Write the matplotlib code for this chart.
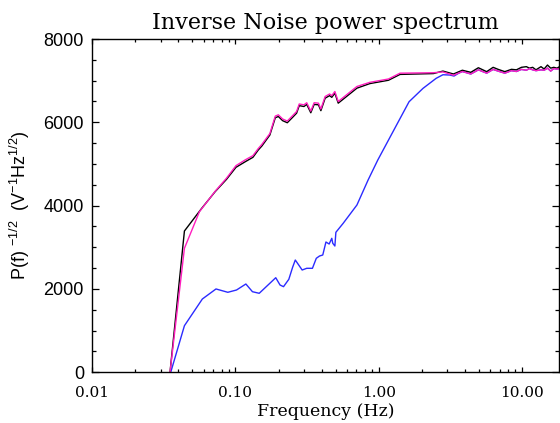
import matplotlib
matplotlib.use("Agg")
import matplotlib.pyplot as plt
from matplotlib.ticker import FixedLocator, LogLocator, NullFormatter, MultipleLocator

black_f = [0.0349, 0.0440, 0.0581, 0.0721, 0.0866, 0.1008, 0.1171, 0.1324, 0.1442, 0.1528,
           0.1738, 0.1897, 0.1993, 0.2134, 0.2300, 0.2506, 0.2672, 0.2788, 0.3008, 0.3145,
           0.3357, 0.3544, 0.3797, 0.3948, 0.4229, 0.4541, 0.4705, 0.4945, 0.5219, 0.7049,
           0.868, 1.171, 1.41, 2.41, 2.81, 3.33, 3.84, 4.40, 4.97, 5.68, 6.30, 6.82, 7.6,
           8.46, 9.16, 9.93, 10.75, 11.3, 11.9, 12.55, 13.6, 14.3, 15.1, 15.9, 16.7, 17.6, 18.3]
black_v = [0, 3391, 3936, 4335, 4632, 4920, 5055, 5160, 5335, 5431,
           5695, 6110, 6140, 6040, 5990, 6120, 6220, 6400, 6380, 6430,
           6230, 6430, 6420, 6280, 6580, 6640, 6600, 6700, 6460, 6820,
           6930, 7010, 7150, 7170, 7230, 7160, 7250, 7200, 7310, 7216, 7320, 7272, 7216,
           7272, 7260, 7320, 7336, 7300, 7320, 7260, 7336, 7280, 7375, 7300, 7320, 7300, 7335]

mag_f = [0.0349, 0.0440, 0.0560, 0.0721, 0.0866, 0.1008, 0.1171, 0.1324, 0.1442, 0.1528,
         0.1738, 0.1897, 0.1993, 0.2134, 0.2300, 0.2506, 0.2672, 0.2788, 0.3008, 0.3145,
         0.3357, 0.3544, 0.3797, 0.3948, 0.4229, 0.4541, 0.4705, 0.4945, 0.5219, 0.7049,
         0.868, 1.171, 1.41, 2.41, 2.81, 3.33, 3.84, 4.40, 4.97, 5.68, 6.30, 6.82, 7.6,
         8.46, 9.16, 9.93, 10.75, 11.3, 11.9, 12.55, 13.6, 14.3, 15.1, 15.9, 16.7, 17.6, 18.3]
mag_v = [0, 2976, 3854, 4345, 4660, 4960, 5100, 5200, 5370, 5470,
         5730, 6150, 6180, 6080, 6030, 6160, 6260, 6440, 6420, 6470,
         6270, 6470, 6460, 6320, 6620, 6680, 6640, 6740, 6500, 6860,
         6960, 7040, 7180, 7190, 7210, 7130, 7220, 7160, 7260, 7180, 7270, 7230, 7180,
         7240, 7220, 7270, 7250, 7290, 7260, 7240, 7260, 7250, 7300, 7230, 7290, 7280, 7290]

blue_f = [0.0353, 0.0440, 0.0587, 0.0731, 0.0884, 0.1017, 0.1182, 0.1314, 0.1465, 0.1911,
          0.2047, 0.2165, 0.2358, 0.2506, 0.2616, 0.2922, 0.3145, 0.3447, 0.3668, 0.3863,
          0.4070, 0.4283, 0.4511, 0.4705, 0.4780, 0.4945, 0.5025, 0.5651, 0.7049, 0.8436,
          0.9858, 1.63, 2.04, 2.52, 2.81, 3.14, 3.36, 3.61, 3.84, 4.40, 4.97, 5.68, 6.30,
          6.82, 7.6, 8.46, 9.16, 9.93, 10.75, 11.3, 11.9, 12.55, 13.6, 14.3, 15.1, 15.9,
          16.7, 17.6, 18.3]
blue_v = [0, 1118, 1759, 2000, 1920, 1975, 2119, 1934, 1896, 2270,
          2095, 2055, 2232, 2520, 2695, 2455, 2496, 2496, 2736, 2791,
          2815, 3127, 3079, 3216, 3096, 3031, 3360, 3576, 4015, 4615,
          5095, 6494, 6815, 7056, 7142, 7135, 7111, 7176, 7220, 7160, 7260, 7180, 7270,
          7230, 7180, 7240, 7220, 7270, 7250, 7290, 7260, 7240, 7260, 7250, 7300, 7230,
          7290, 7280, 7290]

x_ticks = [0.01, 0.1, 1.0, 10.0]
x_ticklabels = ["0.01", "0.10", "1.00", "10.00"]
y_ticks = [0, 2000, 4000, 6000, 8000]

fig = plt.figure(figsize=(5.6, 4.23), dpi=100)
ax = fig.add_axes([0.1648, 0.1199, 0.8342, 0.7879])

ax.plot(blue_f, blue_v, color="#2b2bff", lw=1.0)
ax.plot(black_f, black_v, color="black", lw=1.0)
ax.plot(mag_f, mag_v, color="#ff1ebe", lw=1.0)

ax.set_xscale("log")
ax.set_xlim(0.01, 18.3)
ax.set_ylim(0, 8000)

ax.xaxis.set_major_locator(FixedLocator(x_ticks))
ax.set_xticklabels(x_ticklabels, fontfamily="DejaVu Serif", fontsize=11)
ax.xaxis.set_minor_locator(LogLocator(base=10, subs=range(2, 10)))
ax.xaxis.set_minor_formatter(NullFormatter())
ax.set_yticks(y_ticks)
ax.set_yticklabels([str(v) for v in y_ticks], fontfamily="Liberation Sans", fontsize=13)
ax.yaxis.set_minor_locator(MultipleLocator(500))

ax.tick_params(which="both", direction="in", top=True, right=True, width=0.9)
ax.tick_params(axis="x", which="major", length=3.6, pad=10)
ax.tick_params(axis="x", which="minor", length=2.2)
ax.tick_params(axis="y", which="major", length=5, pad=6)
ax.tick_params(axis="y", which="minor", length=3)

for s in ax.spines.values():
    s.set_linewidth(1.0)

ax.set_title("Inverse Noise power spectrum", fontfamily="DejaVu Serif", fontsize=16, pad=7)
ax.set_xlabel("Frequency (Hz)", fontfamily="DejaVu Serif", fontsize=12.5, labelpad=2)
ax.set_ylabel(r"P(f) $^{\mathregular{-1/2}}$  (V$^{\mathregular{-1}}$Hz$^{\mathregular{1/2}}$)",
              fontfamily="Liberation Sans", fontsize=13, labelpad=8)

fig.savefig("out.png", dpi=100)
